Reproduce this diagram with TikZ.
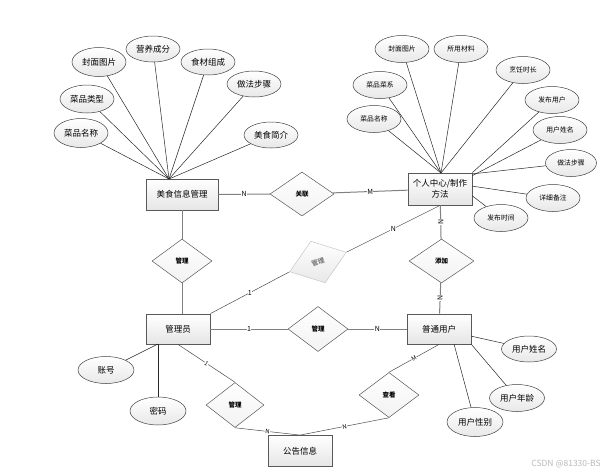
\documentclass[tikz,border=0pt]{standalone}
\usepackage{fontspec}
\setmainfont{Noto Sans CJK SC}
\usetikzlibrary{shapes.geometric}
\tikzset{
  entity/.style={draw=gray!70!black, line width=0.8pt, top color=white, bottom color=gray!20,
    minimum width=64pt, minimum height=30pt, inner sep=1pt, font=\fontsize{8.5}{10}\selectfont},
  attr/.style={ellipse, draw=black!75, line width=0.5pt, top color=white, bottom color=gray!18,
    minimum width=54pt, minimum height=27pt, inner sep=0pt, font=\fontsize{8.5}{10}\selectfont},
  sattr/.style={attr, font=\fontsize{6.8}{8}\selectfont},
  rel/.style={diamond, draw=black!65, line width=0.5pt, top color=white, bottom color=gray!10,
    minimum width=60pt, minimum height=44pt, inner sep=0pt, font=\fontsize{6.5}{7}\selectfont\bfseries},
  card/.style={fill=white, inner sep=0.4pt, font=\fontsize{7}{8}\selectfont},
  link/.style={draw=gray, line width=1pt},
  stem/.style={draw=black!85, line width=0.5pt},
}
\begin{document}
\begin{tikzpicture}[x=1pt,y=-1pt]
      \useasboundingbox (0,0) rectangle (603,475);
      \node[entity, minimum width=72pt, minimum height=31pt] (food) at (182,194.5) {美食信息管理};
      \node[entity, align=center, minimum height=32pt, font=\fontsize{8.5}{11.5}\selectfont] (center) at (440,189) {个人中心/制作\\方法};
      \node[entity] (admin) at (178,329) {管理员};
      \node[entity] (user) at (439,329) {普通用户};
      \node[entity, minimum height=31pt] (notice) at (300,451) {公告信息};

      \node[rel, minimum width=64pt] (assoc) at (302,194) {关联};
      \node[rel] (mgr1) at (182,261) {管理};
      \node[rel, rotate=19, draw=gray!45, bottom color=gray!18, text=gray] (mgr2) at (318,262) {管理};
      \node[rel, minimum width=65pt] (add) at (441.5,261) {添加};
      \node[rel, minimum height=45pt] (mgr3) at (318,329) {管理};
      \node[rel, minimum width=58pt, minimum height=45pt] (mgr4) at (235,405) {管理};
      \node[rel, minimum height=45pt] (view) at (389,395) {查看};

      \node[attr, minimum height=29pt] (f1) at (81,133) {菜品名称};
      \node[attr, minimum height=28pt] (f2) at (87,99) {菜品类型};
      \node[attr, minimum height=29pt] (f3) at (99,62) {封面图片};
      \node[attr, minimum height=26pt] (f4) at (153,49) {营养成分};
      \node[attr, minimum height=26pt] (f5) at (208,62) {食材组成};
      \node[attr, minimum height=26pt] (f6) at (254,84) {做法步骤};
      \node[attr, minimum height=26pt] (f7) at (271,135) {美食简介};
      \coordinate (foodtop) at (169,179);

      \node[sattr] (c1) at (374,119) {菜品名称};
      \node[sattr] (c2) at (380,85) {菜品菜系};
      \node[sattr] (c3) at (402,49) {封面图片};
      \node[sattr] (c4) at (461,49) {所用材料};
      \node[sattr] (c5) at (523,70) {烹饪时长};
      \node[sattr] (c6) at (552,100) {发布用户};
      \node[sattr] (c7) at (560,130) {用户姓名};
      \node[sattr, minimum width=51pt] (c8) at (571,163) {做法步骤};
      \node[sattr] (c9) at (553,198) {详细备注};
      \node[sattr] (c10) at (501,218) {发布时间};
      \coordinate (centertop) at (441,173);

      \node[attr, minimum width=56pt] (a1) at (106,370) {账号};
      \node[attr, minimum width=56pt, minimum height=28pt] (a2) at (158,411) {密码};
      \coordinate (adminbot) at (158,344);

      \node[attr, minimum width=55pt, minimum height=26pt] (u1) at (529,349) {用户姓名};
      \node[attr, minimum width=55pt, minimum height=27pt] (u2) at (517,398) {用户年龄};
      \node[attr, minimum width=56pt, minimum height=29pt] (u3) at (475,422) {用户性别};
      \coordinate (userbot) at (454,344);

      \node[text=gray!55, font=\fontsize{8.5}{10}\selectfont] (mark) at (566,464) {CSDN @81330-BS};

      \begin{scope}[stem]
        \draw (f1) to (foodtop);
        \draw (f2) to (foodtop);
        \draw (f3) to (foodtop);
        \draw (f4) to (foodtop);
        \draw (f5) to (foodtop);
        \draw (f6) to (foodtop);
        \draw (f7) to (foodtop);
        \draw (c1) to (centertop);
        \draw (c2) to (centertop);
        \draw (c3) to (centertop);
        \draw (c4) to (centertop);
        \draw (c5) to (centertop);
        \draw (c6) to (center.north east);
        \draw (c7) to ([yshift=-3pt]center.north east);
        \draw (c8) to (center.25);
        \draw (c9) to (center.5);
        \draw (c10) to (center.-12);
        \draw (a1) to (adminbot);
        \draw (a2) to (adminbot);
        \draw (u1) to (user);
        \draw (u2) to (user.south east);
        \draw (u3) to (userbot);
      \end{scope}

      \begin{scope}[link]
        \draw (food) to node[card]{N} (assoc);
        \draw (assoc) to node[card]{M} (center);
        \draw (food) to (mgr1);
        \draw (mgr1) to (mgr1 |- admin.north);
        \draw (center) to node[card, rotate=90]{N} (add);
        \draw (add) to node[card, rotate=90]{N} (user);
        \draw (admin) to node[card]{1} (mgr3);
        \draw (mgr3) to node[card]{N} (user);
      \end{scope}

      \begin{scope}[stem, draw=black!70]
        \draw (admin.north east) to node[card]{1} (mgr2.west);
        \draw (mgr2.east) to node[card]{N} (center.south);
        \draw (admin.south) to node[card, sloped, font=\fontsize{6}{7}\selectfont]{1} (mgr4.north);
        \draw (mgr4.south) to node[card, sloped, font=\fontsize{6}{7}\selectfont]{N} (notice.north);
        \draw (notice.north) to node[card, sloped, font=\fontsize{6}{7}\selectfont]{N} (view.south);
        \draw (view.north) to node[card, sloped, font=\fontsize{6}{7}\selectfont]{M} (user.south);
      \end{scope}
    \end{tikzpicture}
\end{document}
